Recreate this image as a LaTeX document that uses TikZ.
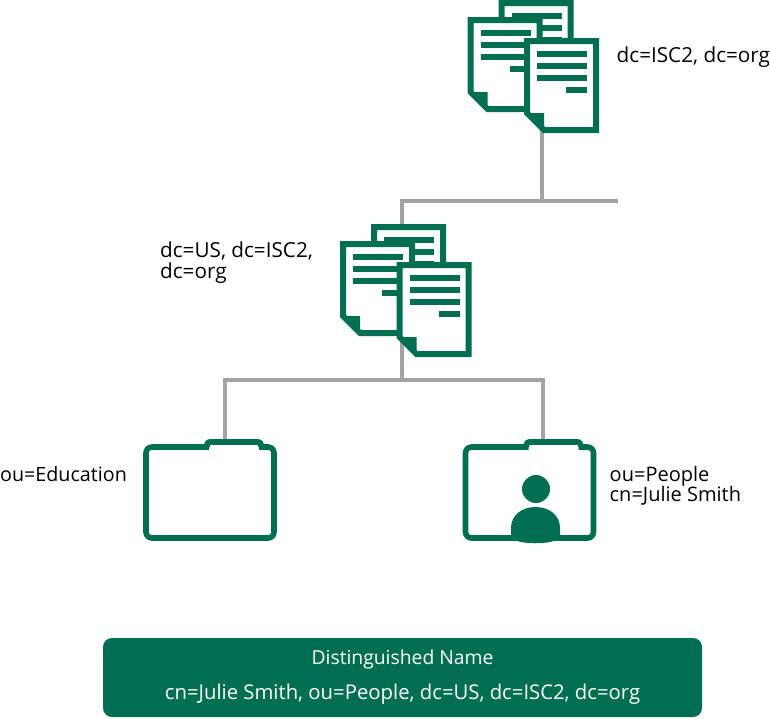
\documentclass[tikz,border=0pt]{standalone}
\usepackage{fontspec}
\setmainfont{Open Sans}
\definecolor{grn}{HTML}{006F51}
\definecolor{wire}{HTML}{A3A3A3}
\newcommand{\fsz}[1]{\fontsize{#1}{20.5}\selectfont}
\tikzset{
  x=1pt,y=-1pt,
  wireline/.style={draw=wire,line width=3.6pt},
  label/.style={inner sep=0pt,anchor=west,align=left,text=black,font=\fsz{20}},
  banner/.style={inner sep=0pt,text=white,font=\fsz{20}},
  pagefill/.style={draw=grn,fill=white,line width=6pt,miter limit=10},
  page/.pic={
    \path[pagefill] (3,3) -- (72,3) -- (72,92) -- (20,92) -- (3,75) -- cycle;
    \fill[grn] (3,75) -- (20,75) -- (20,92) -- cycle;
    \fill[grn] (13,13) rectangle (63,19);
    \fill[grn] (13,25) rectangle (63,31);
    \fill[grn] (13,37) rectangle (63,43);
    \fill[grn] (42,49) rectangle (63,55);
  },
  docstack/.pic={
    \pic at (-25.5,-38) {page};
    \pic at (-56.5,-21) {page};
    \pic at (0,0) {page};
  },
  folder/.pic={
    \draw[draw=grn,fill=white,line width=5.6pt,rounded corners=2.5pt,line join=round]
      (64,8) -- (64,3) -- (118,3) -- (118,8);
    \draw[draw=grn,line width=5.6pt,rounded corners=6pt,line join=round]
      (66,8) -- (3,8) -- (3,99) -- (131,99) -- (131,8) -- (116,8);
    \fill[white] (67,5.6) rectangle (115,12);
  },
}
\begin{document}
\begin{tikzpicture}
\useasboundingbox (0,0) rectangle (770,718);
% anchor points for connectors
\coordinate (topdoc) at (542,128);
\coordinate (bus1) at (542,201);
\coordinate (bus1l) at (402,201);
\coordinate (bus1r) at (618,201);
\coordinate (middoc) at (402,230);
\coordinate (middocb) at (402,340);
\coordinate (bus2) at (402,380);
\coordinate (bus2l) at (225,380);
\coordinate (bus2r) at (543,380);
\coordinate (foldl) at (225,442);
\coordinate (foldr) at (543,442);
% connectors
\draw[wireline] (topdoc) -- (bus1);
\draw[wireline] (middoc) -- (bus1l) -- (bus1r);
\draw[wireline] (middocb) -- (bus2);
\draw[wireline] (foldl) -- (bus2l) -- (bus2r) -- (foldr);
% icons
\pic at (524,38) {docstack};
\pic at (396.5,262) {docstack};
\pic at (143,439) {folder};
\pic at (462.5,439) {folder};
% person
\fill[grn] (536,489) circle (14);
\fill[grn] (511,538) -- (511,528) .. controls (511,515) and (522,507) .. (535.5,507)
  .. controls (549,507) and (560,515) .. (560,528) -- (560,538)
  .. controls (552,545) and (519,545) .. (511,538) -- cycle;
% labels
\node[label,font=\fsz{20.7}] (l1) at (616.5,57.5) {dc=ISC2, dc=org};
\node[label,font=\fsz{20.7}] (l2) at (160,262.5) {dc=US, dc=ISC2,\\dc=org};
\node[label,font=\fsz{19.7}] (l3) at (0,474) {ou=Education};
\node[label] (l4) at (609.5,486) {ou=People\\cn=Julie Smith};
% banner
\fill[grn] (103,638) [rounded corners=9pt] rectangle (702,717);
\node[banner,font=\fsz{19.3}] (b1) at (402.5,659.5) {Distinguished Name};
\node[banner,font=\fsz{20.3}] (b2) at (402.5,694) {cn=Julie Smith, ou=People, dc=US, dc=ISC2, dc=org};
\end{tikzpicture}
\end{document}
